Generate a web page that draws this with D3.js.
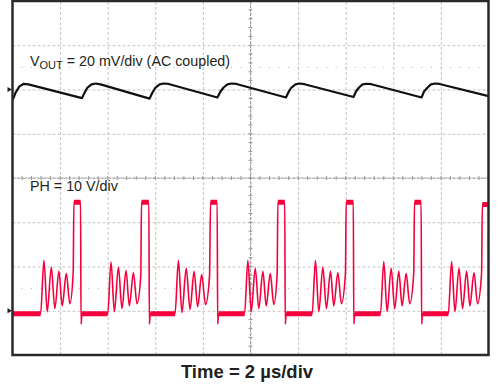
<!DOCTYPE html>
<html lang="en">
<head>
<meta charset="utf-8">
<script src="https://d3js.org/d3.v7.min.js"></script>
<style>
  body { margin: 0; background: #fff; }
  text { font-family: "Liberation Sans", Arial, sans-serif; fill: #231f20; }
</style>
</head>
<body>
<script>
// time in us (2 us/div), VOUT in mV (AC coupled), PH in V
var voutTime = [0.02, 0.13, 0.29, 0.46, 0.67,
                2.92, 3.03, 3.15, 3.32, 3.49, 3.70,
                5.76, 5.88, 6.01, 6.18, 6.35, 6.56,
                8.61, 8.74, 8.87, 9.03, 9.20, 9.41,
                11.49, 11.60, 11.72, 11.89, 12.06, 12.27,
                14.33, 14.43, 14.56, 14.71, 14.87, 15.08,
                17.19, 17.29, 17.44, 17.58, 17.75, 17.94,
                20.0];
var voutMv = [-4.5, -1.4, 1.4, 2.5, 2.3,
              -3.9, -1.4, 0.9, 2.3, 2.7, 2.3,
              -4.1, -1.4, 0.9, 2.3, 2.7, 2.5,
              -3.6, -0.9, 0.9, 2.3, 2.7, 2.5,
              -3.6, -1.1, 0.9, 2.3, 2.7, 2.4,
              -3.4, -0.9, 0.9, 2.3, 2.6, 2.4,
              -3.6, -0.9, 0.9, 2.3, 2.7, 2.5,
              -3.0];

var phTime = [0,
  1.18, 1.32, 1.46, 1.63, 1.78, 1.95, 2.09, 2.26, 2.41, 2.55, 2.58, 2.86, 2.88, 2.92,
  4.00, 4.14, 4.28, 4.45, 4.60, 4.77, 4.91, 5.08, 5.23, 5.39, 5.42, 5.73, 5.75, 5.79,
  6.83, 6.97, 7.12, 7.30, 7.46, 7.63, 7.78, 7.95, 8.11, 8.28, 8.32, 8.60, 8.62, 8.66,
  9.75, 9.89, 10.03, 10.20, 10.35, 10.52, 10.66, 10.83, 10.98, 11.12, 11.15, 11.44, 11.46, 11.50,
  12.59, 12.73, 12.87, 13.04, 13.19, 13.36, 13.50, 13.67, 13.82, 13.99, 14.02, 14.32, 14.34, 14.38,
  15.46, 15.60, 15.74, 15.91, 16.06, 16.23, 16.37, 16.54, 16.69, 16.86, 16.89, 17.17, 17.19, 17.23,
  18.31, 18.45, 18.59, 18.76, 18.91, 19.08, 19.22, 19.39, 19.54, 19.71, 19.74, 20.0];
var phVolts = [-0.7,
  -0.7, 11.4, -0.2, 9.8, 0.5, 8.9, 1.1, 8.4, 1.6, 8.6, 24.5, 24.5, -3.0, -0.7,
  -0.7, 11.0, -0.2, 9.8, 0.5, 9.1, 1.1, 8.6, 1.6, 7.9, 24.5, 24.5, -3.0, -0.7,
  -0.7, 11.4, -0.4, 9.6, 0.3, 8.9, 0.9, 8.2, 1.4, 8.0, 24.5, 24.5, -3.0, -0.7,
  -0.7, 11.4, -0.2, 9.6, 0.5, 8.9, 1.1, 8.4, 1.4, 8.4, 24.5, 24.5, -3.0, -0.7,
  -0.7, 11.4, -0.2, 9.8, 0.5, 8.9, 1.1, 8.6, 1.6, 8.6, 24.5, 24.5, -3.0, -0.7,
  -0.7, 11.1, -0.2, 9.6, 0.5, 8.9, 1.1, 8.4, 1.6, 8.6, 24.5, 24.5, -3.0, -0.7,
  -0.7, 11.1, -0.2, 9.6, 0.5, 8.9, 1.1, 8.6, 1.6, 8.6, 24.0, 24.0];

var width = 497, height = 385;
var plotLeft = 12.5, plotRight = 488.5, plotTop = 1, plotBottom = 355;

var svg = d3.select("body")
    .append("svg")
    .attr("width", width)
    .attr("height", height);

// 10 horizontal divisions, 8 vertical divisions
var x = d3.scaleLinear().domain([0, 20]).range([plotLeft, plotRight]);
var yVout = d3.scaleLinear().domain([-120, 40]).range([plotBottom, plotTop]);   // 20 mV/div, ground 2 div from top
var yPh = d3.scaleLinear().domain([-10, 70]).range([plotBottom, plotTop]);      // 10 V/div, ground 1 div from bottom
var div = d3.scaleLinear().domain([0, 8]).range([plotBottom, plotTop]);

// grid
svg.append("g")
    .attr("transform", "translate(0," + plotBottom + ")")
    .call(d3.axisBottom(x).tickValues(d3.range(2, 20, 2)).tickSize(-(plotBottom - plotTop)).tickFormat(""))
    .call(function (g) { g.select(".domain").remove(); })
    .selectAll("line")
    .attr("stroke", "#c4c4c4")
    .attr("stroke-dasharray", "3,2");

svg.append("g")
    .attr("transform", "translate(" + plotLeft + ",0)")
    .call(d3.axisLeft(div).tickValues(d3.range(1, 8)).tickSize(-(plotRight - plotLeft)).tickFormat(""))
    .call(function (g) { g.select(".domain").remove(); })
    .selectAll("line")
    .attr("stroke", "#c4c4c4")
    .attr("stroke-dasharray", "3,2");

// centre axes with minor ticks
var cx = x(10), cy = div(4);
svg.append("line").attr("x1", cx).attr("x2", cx).attr("y1", plotTop).attr("y2", plotBottom)
    .attr("stroke", "#a0a0a0").attr("stroke-dasharray", "3,1");
svg.append("line").attr("x1", plotLeft).attr("x2", plotRight).attr("y1", cy).attr("y2", cy)
    .attr("stroke", "#a0a0a0").attr("stroke-dasharray", "3,1");

svg.append("g").selectAll("line")
    .data(d3.range(0.4, 20, 0.4))
    .enter().append("line")
    .attr("x1", function (d) { return x(d); })
    .attr("x2", function (d) { return x(d); })
    .attr("y1", cy - 2).attr("y2", cy + 2)
    .attr("stroke", "#999");

svg.append("g").selectAll("line")
    .data(d3.range(0.2, 8, 0.2))
    .enter().append("line")
    .attr("x1", cx - 2).attr("x2", cx + 2)
    .attr("y1", function (d) { return div(d); })
    .attr("y2", function (d) { return div(d); })
    .attr("stroke", "#999");

// dotted rows at +/- 2.5 div
[1.5, 6.5].forEach(function (r) {
    svg.append("g").selectAll("rect")
        .data(d3.range(0.4, 20, 0.4))
        .enter().append("rect")
        .attr("x", function (d) { return x(d) - 0.5; })
        .attr("y", div(r) - 0.5)
        .attr("width", 1).attr("height", 1)
        .attr("fill", "#b0b0b0");
});

// traces
svg.append("clipPath").attr("id", "plot")
    .append("rect").attr("x", plotLeft).attr("y", plotTop)
    .attr("width", plotRight - plotLeft).attr("height", plotBottom - plotTop);

var plot = svg.append("g").attr("clip-path", "url(#plot)");

var voutLine = d3.line()
    .x(function (d, i) { return x(voutTime[i]); })
    .y(function (d) { return yVout(d); });

plot.append("path")
    .attr("d", voutLine(voutMv))
    .attr("fill", "none")
    .attr("stroke", "#111")
    .attr("stroke-width", 2.2)
    .attr("stroke-linejoin", "round");

var phLine = d3.line()
    .x(function (d, i) { return x(phTime[i]); })
    .y(function (d) { return yPh(d); })
    .curve(d3.curveMonotoneX);

plot.append("path")
    .attr("d", phLine(phVolts))
    .attr("fill", "none")
    .attr("stroke", "#f5003d")
    .attr("stroke-width", 1.6)
    .attr("stroke-linejoin", "round");

// noisy flat levels drawn as a thicker band
var flats = [];
for (var i = 0; i < phTime.length - 1; i++) {
    if (phVolts[i] === phVolts[i + 1] && phTime[i + 1] - phTime[i] > 0.1) flats.push(i);
}
plot.append("g").selectAll("line")
    .data(flats)
    .enter().append("line")
    .attr("x1", function (i) { return x(phTime[i]); })
    .attr("x2", function (i) { return x(phTime[i + 1]); })
    .attr("y1", function (i) { return yPh(phVolts[i]); })
    .attr("y2", function (i) { return yPh(phVolts[i]); })
    .attr("stroke", "#f5003d")
    .attr("stroke-width", 5);

// frame
svg.append("rect")
    .attr("x", plotLeft).attr("y", plotTop)
    .attr("width", plotRight - plotLeft).attr("height", plotBottom - plotTop)
    .attr("fill", "none")
    .attr("stroke", "#2a2a2a")
    .attr("stroke-width", 2.5);

// ground markers
[yVout(0), yPh(0)].forEach(function (gy) {
    svg.append("path")
        .attr("d", "M" + (plotLeft - 5) + "," + (gy - 2.5) + "L" + (plotLeft - 0.5) + "," + gy + "L" + (plotLeft - 5) + "," + (gy + 2.5) + "Z")
        .attr("fill", "#222");
});

// labels
var vLabel = svg.append("text").attr("x", 30).attr("y", 65.5).attr("font-size", 14.3);
vLabel.append("tspan").text("V");
vLabel.append("tspan").attr("font-size", 11).attr("dy", 3.5).text("OUT");
vLabel.append("tspan").attr("dy", -3.5).text(" = 20 mV/div (AC coupled)");

svg.append("text").attr("x", 30).attr("y", 190.5).attr("font-size", 14.3)
    .text("PH = 10 V/div");

svg.append("text").attr("x", 247).attr("y", 377.5)
    .attr("text-anchor", "middle")
    .attr("font-size", 18.5)
    .attr("font-weight", "bold")
    .text("Time = 2 \u00b5s/div");
</script>
</body>
</html>
